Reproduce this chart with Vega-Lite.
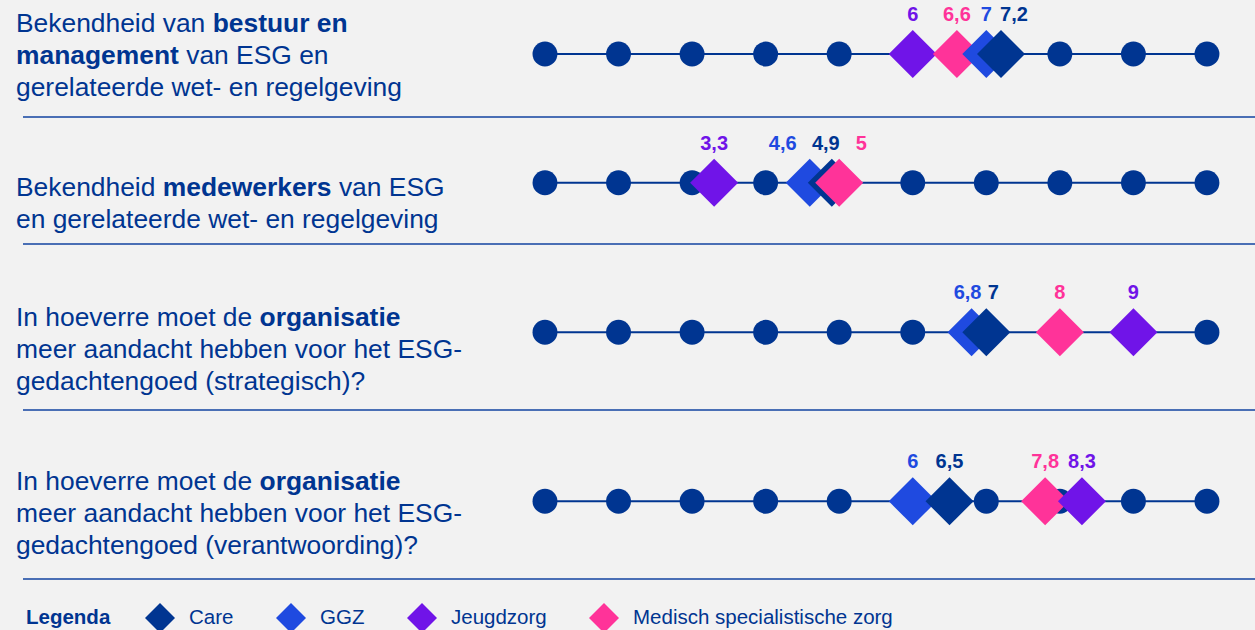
{
"$schema": "https://vega.github.io/schema/vega-lite/v6.json",
"background": "#f2f2f2",
"padding": 0,
"spacing": 0,
"config": {
  "view": {"stroke": null},
  "locale": {"number": {"decimal": ",", "thousands": ".", "grouping": [3], "currency": ["€", ""]}},
  "text": {"font": "Liberation Sans"},
  "legend": {"orient": "none", "legendX": 26, "legendY": 603, "direction": "horizontal", "titleOrient": "left", "titleFont": "Liberation Sans", "titleFontSize": 20.5, "titleFontWeight": "bold", "titleColor": "#003591", "titlePadding": 34, "labelFont": "Liberation Sans", "labelFontSize": 20.5, "labelColor": "#003591", "labelOffset": 14, "columnPadding": 42, "symbolType": "diamond", "symbolSize": 900, "symbolStrokeWidth": 0, "symbolOpacity": 1, "labelLimit": 400}
},
"datasets": {
  "tekst": [
    {"q":1,"line":1,"seg":0,"emph":false,"txt":"Bekendheid van"},
    {"q":1,"line":1,"seg":1,"emph":true,"txt":"bestuur en"},
    {"q":1,"line":2,"seg":0,"emph":true,"txt":"management"},
    {"q":1,"line":2,"seg":1,"emph":false,"txt":"van ESG en"},
    {"q":1,"line":3,"seg":0,"emph":false,"txt":"gerelateerde wet- en regelgeving"},
    {"q":2,"line":1,"seg":0,"emph":false,"txt":"Bekendheid"},
    {"q":2,"line":1,"seg":1,"emph":true,"txt":"medewerkers"},
    {"q":2,"line":1,"seg":2,"emph":false,"txt":"van ESG"},
    {"q":2,"line":2,"seg":0,"emph":false,"txt":"en gerelateerde wet- en regelgeving"},
    {"q":3,"line":1,"seg":0,"emph":false,"txt":"In hoeverre moet de"},
    {"q":3,"line":1,"seg":1,"emph":true,"txt":"organisatie"},
    {"q":3,"line":2,"seg":0,"emph":false,"txt":"meer aandacht hebben voor het ESG-"},
    {"q":3,"line":3,"seg":0,"emph":false,"txt":"gedachtengoed (strategisch)?"},
    {"q":4,"line":1,"seg":0,"emph":false,"txt":"In hoeverre moet de"},
    {"q":4,"line":1,"seg":1,"emph":true,"txt":"organisatie"},
    {"q":4,"line":2,"seg":0,"emph":false,"txt":"meer aandacht hebben voor het ESG-"},
    {"q":4,"line":3,"seg":0,"emph":false,"txt":"gedachtengoed (verantwoording)?"}
  ],
  "schaal": [{"p":1},{"p":2},{"p":3},{"p":4},{"p":5},{"p":6},{"p":7},{"p":8},{"p":9},{"p":10}],
  "scores": [
    {"q":1,"sector":"Jeugdzorg","score":6},
    {"q":1,"sector":"Medisch specialistische zorg","score":6.6},
    {"q":1,"sector":"GGZ","score":7},
    {"q":1,"sector":"Care","score":7.2},
    {"q":2,"sector":"Jeugdzorg","score":3.3},
    {"q":2,"sector":"GGZ","score":4.6},
    {"q":2,"sector":"Care","score":4.9},
    {"q":2,"sector":"Medisch specialistische zorg","score":5},
    {"q":3,"sector":"GGZ","score":6.8},
    {"q":3,"sector":"Care","score":7},
    {"q":3,"sector":"Medisch specialistische zorg","score":8},
    {"q":3,"sector":"Jeugdzorg","score":9},
    {"q":4,"sector":"GGZ","score":6},
    {"q":4,"sector":"Care","score":6.5},
    {"q":4,"sector":"Medisch specialistische zorg","score":7.8},
    {"q":4,"sector":"Jeugdzorg","score":8.3}
  ]
},
"resolve": {"scale": {"y": "independent"}},
"vconcat": [
  {
    "width": 1255, "height": 117,
    "layer": [
      {"data": {"values": [{}]},
       "mark": {"type": "rule", "color": "#4a6fb5", "strokeWidth": 2},
       "encoding": {"x": {"datum": -6.0963, "type": "quantitative", "scale": {"domain":[-6.409,10.653],"nice":false,"zero":false}, "axis": null},
                    "x2": {"datum": 10.653},
                    "y": {"datum": 3.673, "type": "quantitative", "scale": {"domain":[-0.0063,3.673],"nice":false,"zero":false,"reverse":true}, "axis": null}}},
      {"data": {"values": [{}]},
       "mark": {"type": "rule", "color": "#003591", "strokeWidth": 2},
       "encoding": {"x": {"datum": 1, "type": "quantitative", "scale": {"domain":[-6.409,10.653],"nice":false,"zero":false}, "axis": null},
                    "x2": {"datum": 10},
                    "y": {"datum": 1.692, "type": "quantitative", "scale": {"domain":[-0.0063,3.673],"nice":false,"zero":false,"reverse":true}, "axis": null}}},
      {"data": {"name": "schaal"},
       "mark": {"type": "circle", "color": "#003591", "size": 620, "opacity": 1},
       "encoding": {"x": {"field": "p", "type": "quantitative", "scale": {"domain":[-6.409,10.653],"nice":false,"zero":false}, "axis": null},
                    "y": {"datum": 1.692, "type": "quantitative", "scale": {"domain":[-0.0063,3.673],"nice":false,"zero":false,"reverse":true}, "axis": null}}},
      {"data": {"name": "scores"}, "transform": [{"filter": "datum.q==1"}],
       "mark": {"type": "point", "shape": "diamond", "filled": true, "size": 2304, "opacity": 1, "strokeWidth": 0},
       "encoding": {"x": {"field": "score", "type": "quantitative", "scale": {"domain":[-6.409,10.653],"nice":false,"zero":false}, "axis": null},
                    "y": {"datum": 1.692, "type": "quantitative", "scale": {"domain":[-0.0063,3.673],"nice":false,"zero":false,"reverse":true}, "axis": null},
                    "color": {"field": "sector", "type": "nominal", "scale": {"domain":["Care","GGZ","Jeugdzorg","Medisch specialistische zorg"],"range":["#003591","#1f4ae0","#7014e8","#ff3399"]}, "legend": {"title": "Legenda"}},
                    "order": {"field": "score", "type": "quantitative"}}},
      {"data": {"name": "scores"}, "transform": [{"filter": "datum.q==1 && datum.sector!='Care'"}],
       "mark": {"type": "text", "font": "Liberation Sans", "fontWeight": "bold", "fontSize": 20, "align": "center", "baseline": "alphabetic", "dy": -33},
       "encoding": {"x": {"field": "score", "type": "quantitative", "scale": {"domain":[-6.409,10.653],"nice":false,"zero":false}, "axis": null},
                    "y": {"datum": 1.692, "type": "quantitative", "scale": {"domain":[-0.0063,3.673],"nice":false,"zero":false,"reverse":true}, "axis": null},
                    "text": {"field": "score", "type": "quantitative", "format": ".1~f"},
                    "color": {"field": "sector", "type": "nominal", "scale": {"domain":["Care","GGZ","Jeugdzorg","Medisch specialistische zorg"],"range":["#003591","#1f4ae0","#7014e8","#ff3399"]}, "legend": null}}},
      {"data": {"name": "scores"}, "transform": [{"filter": "datum.q==1 && datum.sector=='Care'"}],
       "mark": {"type": "text", "font": "Liberation Sans", "fontWeight": "bold", "fontSize": 20, "align": "center", "baseline": "alphabetic", "dy": -33, "dx": 13},
       "encoding": {"x": {"field": "score", "type": "quantitative", "scale": {"domain":[-6.409,10.653],"nice":false,"zero":false}, "axis": null},
                    "y": {"datum": 1.692, "type": "quantitative", "scale": {"domain":[-0.0063,3.673],"nice":false,"zero":false,"reverse":true}, "axis": null},
                    "text": {"field": "score", "type": "quantitative", "format": ".1~f"},
                    "color": {"field": "sector", "type": "nominal", "scale": {"domain":["Care","GGZ","Jeugdzorg","Medisch specialistische zorg"],"range":["#003591","#1f4ae0","#7014e8","#ff3399"]}, "legend": null}}},
      {"data": {"name": "tekst"}, "transform": [{"filter": "datum.q==1 && datum.seg==0 && !datum.emph"}],
       "mark": {"type": "text", "font": "Liberation Sans", "fontSize": 26.4, "fill": "#003591", "align": "left", "baseline": "alphabetic"},
       "encoding": {"x": {"datum": -6.1915, "type": "quantitative", "scale": {"domain":[-6.409,10.653],"nice":false,"zero":false}, "axis": null},
                    "y": {"field": "line", "type": "quantitative", "scale": {"domain":[-0.0063,3.673],"nice":false,"zero":false,"reverse":true}, "axis": null},
                    "text": {"field": "txt", "type": "nominal"}}},
      {"data": {"name": "tekst"}, "transform": [{"filter": "datum.q==1 && datum.seg==0 && datum.emph"}],
       "mark": {"type": "text", "font": "Liberation Sans", "fontWeight": "bold", "fontSize": 26.4, "fill": "#003591", "align": "left", "baseline": "alphabetic"},
       "encoding": {"x": {"datum": -6.1915, "type": "quantitative", "scale": {"domain":[-6.409,10.653],"nice":false,"zero":false}, "axis": null},
                    "y": {"field": "line", "type": "quantitative", "scale": {"domain":[-0.0063,3.673],"nice":false,"zero":false,"reverse":true}, "axis": null},
                    "text": {"field": "txt", "type": "nominal"}}},
      {"data": {"name": "tekst"}, "transform": [{"filter": "datum.q==1 && datum.seg==1 && datum.emph"}],
       "mark": {"type": "text", "font": "Liberation Sans", "fontWeight": "bold", "fontSize": 26.4, "fill": "#003591", "align": "left", "baseline": "alphabetic", "dx": 196.7},
       "encoding": {"x": {"datum": -6.1915, "type": "quantitative", "scale": {"domain":[-6.409,10.653],"nice":false,"zero":false}, "axis": null},
                    "y": {"field": "line", "type": "quantitative", "scale": {"domain":[-0.0063,3.673],"nice":false,"zero":false,"reverse":true}, "axis": null},
                    "text": {"field": "txt", "type": "nominal"}}},
      {"data": {"name": "tekst"}, "transform": [{"filter": "datum.q==1 && datum.seg==1 && !datum.emph"}],
       "mark": {"type": "text", "font": "Liberation Sans", "fontSize": 26.4, "fill": "#003591", "align": "left", "baseline": "alphabetic", "dx": 170.2},
       "encoding": {"x": {"datum": -6.1915, "type": "quantitative", "scale": {"domain":[-6.409,10.653],"nice":false,"zero":false}, "axis": null},
                    "y": {"field": "line", "type": "quantitative", "scale": {"domain":[-0.0063,3.673],"nice":false,"zero":false,"reverse":true}, "axis": null},
                    "text": {"field": "txt", "type": "nominal"}}}
    ]
  },
  {
    "width": 1255, "height": 126,
    "layer": [
      {"data": {"values": [{}]},
       "mark": {"type": "rule", "color": "#4a6fb5", "strokeWidth": 2},
       "encoding": {"x": {"datum": -6.0963, "type": "quantitative", "scale": {"domain":[-6.409,10.653],"nice":false,"zero":false}, "axis": null},
                    "x2": {"datum": 10.653},
                    "y": {"datum": 2.5094, "type": "quantitative", "scale": {"domain":[-1.4528,2.5094],"nice":false,"zero":false,"reverse":true}, "axis": null}}},
      {"data": {"values": [{}]},
       "mark": {"type": "rule", "color": "#003591", "strokeWidth": 2},
       "encoding": {"x": {"datum": 1, "type": "quantitative", "scale": {"domain":[-6.409,10.653],"nice":false,"zero":false}, "axis": null},
                    "x2": {"datum": 10},
                    "y": {"datum": 0.5818, "type": "quantitative", "scale": {"domain":[-1.4528,2.5094],"nice":false,"zero":false,"reverse":true}, "axis": null}}},
      {"data": {"name": "schaal"},
       "mark": {"type": "circle", "color": "#003591", "size": 620, "opacity": 1},
       "encoding": {"x": {"field": "p", "type": "quantitative", "scale": {"domain":[-6.409,10.653],"nice":false,"zero":false}, "axis": null},
                    "y": {"datum": 0.5818, "type": "quantitative", "scale": {"domain":[-1.4528,2.5094],"nice":false,"zero":false,"reverse":true}, "axis": null}}},
      {"data": {"name": "scores"}, "transform": [{"filter": "datum.q==2"}],
       "mark": {"type": "point", "shape": "diamond", "filled": true, "size": 2304, "opacity": 1, "strokeWidth": 0},
       "encoding": {"x": {"field": "score", "type": "quantitative", "scale": {"domain":[-6.409,10.653],"nice":false,"zero":false}, "axis": null},
                    "y": {"datum": 0.5818, "type": "quantitative", "scale": {"domain":[-1.4528,2.5094],"nice":false,"zero":false,"reverse":true}, "axis": null},
                    "color": {"field": "sector", "type": "nominal", "scale": {"domain":["Care","GGZ","Jeugdzorg","Medisch specialistische zorg"],"range":["#003591","#1f4ae0","#7014e8","#ff3399"]}, "legend": {"title": "Legenda"}},
                    "order": {"field": "score", "type": "quantitative"}}},
      {"data": {"name": "scores"}, "transform": [{"filter": "datum.q==2 && datum.sector=='Jeugdzorg'"}],
       "mark": {"type": "text", "font": "Liberation Sans", "fontWeight": "bold", "fontSize": 20, "align": "center", "baseline": "alphabetic", "dy": -33},
       "encoding": {"x": {"field": "score", "type": "quantitative", "scale": {"domain":[-6.409,10.653],"nice":false,"zero":false}, "axis": null},
                    "y": {"datum": 0.5818, "type": "quantitative", "scale": {"domain":[-1.4528,2.5094],"nice":false,"zero":false,"reverse":true}, "axis": null},
                    "text": {"field": "score", "type": "quantitative", "format": ".1~f"},
                    "color": {"field": "sector", "type": "nominal", "scale": {"domain":["Care","GGZ","Jeugdzorg","Medisch specialistische zorg"],"range":["#003591","#1f4ae0","#7014e8","#ff3399"]}, "legend": null}}},
      {"data": {"name": "scores"}, "transform": [{"filter": "datum.q==2 && datum.sector=='GGZ'"}],
       "mark": {"type": "text", "font": "Liberation Sans", "fontWeight": "bold", "fontSize": 20, "align": "center", "baseline": "alphabetic", "dy": -33, "dx": -27},
       "encoding": {"x": {"field": "score", "type": "quantitative", "scale": {"domain":[-6.409,10.653],"nice":false,"zero":false}, "axis": null},
                    "y": {"datum": 0.5818, "type": "quantitative", "scale": {"domain":[-1.4528,2.5094],"nice":false,"zero":false,"reverse":true}, "axis": null},
                    "text": {"field": "score", "type": "quantitative", "format": ".1~f"},
                    "color": {"field": "sector", "type": "nominal", "scale": {"domain":["Care","GGZ","Jeugdzorg","Medisch specialistische zorg"],"range":["#003591","#1f4ae0","#7014e8","#ff3399"]}, "legend": null}}},
      {"data": {"name": "scores"}, "transform": [{"filter": "datum.q==2 && datum.sector=='Care'"}],
       "mark": {"type": "text", "font": "Liberation Sans", "fontWeight": "bold", "fontSize": 20, "align": "center", "baseline": "alphabetic", "dy": -33, "dx": -6},
       "encoding": {"x": {"field": "score", "type": "quantitative", "scale": {"domain":[-6.409,10.653],"nice":false,"zero":false}, "axis": null},
                    "y": {"datum": 0.5818, "type": "quantitative", "scale": {"domain":[-1.4528,2.5094],"nice":false,"zero":false,"reverse":true}, "axis": null},
                    "text": {"field": "score", "type": "quantitative", "format": ".1~f"},
                    "color": {"field": "sector", "type": "nominal", "scale": {"domain":["Care","GGZ","Jeugdzorg","Medisch specialistische zorg"],"range":["#003591","#1f4ae0","#7014e8","#ff3399"]}, "legend": null}}},
      {"data": {"name": "scores"}, "transform": [{"filter": "datum.q==2 && datum.sector=='Medisch specialistische zorg'"}],
       "mark": {"type": "text", "font": "Liberation Sans", "fontWeight": "bold", "fontSize": 20, "align": "center", "baseline": "alphabetic", "dy": -33, "dx": 22},
       "encoding": {"x": {"field": "score", "type": "quantitative", "scale": {"domain":[-6.409,10.653],"nice":false,"zero":false}, "axis": null},
                    "y": {"datum": 0.5818, "type": "quantitative", "scale": {"domain":[-1.4528,2.5094],"nice":false,"zero":false,"reverse":true}, "axis": null},
                    "text": {"field": "score", "type": "quantitative", "format": ".1~f"},
                    "color": {"field": "sector", "type": "nominal", "scale": {"domain":["Care","GGZ","Jeugdzorg","Medisch specialistische zorg"],"range":["#003591","#1f4ae0","#7014e8","#ff3399"]}, "legend": null}}},
      {"data": {"name": "tekst"}, "transform": [{"filter": "datum.q==2 && datum.seg==0"}],
       "mark": {"type": "text", "font": "Liberation Sans", "fontSize": 26.4, "fill": "#003591", "align": "left", "baseline": "alphabetic"},
       "encoding": {"x": {"datum": -6.1915, "type": "quantitative", "scale": {"domain":[-6.409,10.653],"nice":false,"zero":false}, "axis": null},
                    "y": {"field": "line", "type": "quantitative", "scale": {"domain":[-1.4528,2.5094],"nice":false,"zero":false,"reverse":true}, "axis": null},
                    "text": {"field": "txt", "type": "nominal"}}},
      {"data": {"name": "tekst"}, "transform": [{"filter": "datum.q==2 && datum.seg==1"}],
       "mark": {"type": "text", "font": "Liberation Sans", "fontWeight": "bold", "fontSize": 26.4, "fill": "#003591", "align": "left", "baseline": "alphabetic", "dx": 146.8},
       "encoding": {"x": {"datum": -6.1915, "type": "quantitative", "scale": {"domain":[-6.409,10.653],"nice":false,"zero":false}, "axis": null},
                    "y": {"field": "line", "type": "quantitative", "scale": {"domain":[-1.4528,2.5094],"nice":false,"zero":false,"reverse":true}, "axis": null},
                    "text": {"field": "txt", "type": "nominal"}}},
      {"data": {"name": "tekst"}, "transform": [{"filter": "datum.q==2 && datum.seg==2"}],
       "mark": {"type": "text", "font": "Liberation Sans", "fontSize": 26.4, "fill": "#003591", "align": "left", "baseline": "alphabetic", "dx": 322.9},
       "encoding": {"x": {"datum": -6.1915, "type": "quantitative", "scale": {"domain":[-6.409,10.653],"nice":false,"zero":false}, "axis": null},
                    "y": {"field": "line", "type": "quantitative", "scale": {"domain":[-1.4528,2.5094],"nice":false,"zero":false,"reverse":true}, "axis": null},
                    "text": {"field": "txt", "type": "nominal"}}}
    ]
  },
  {
    "width": 1255, "height": 165,
    "layer": [
      {"data": {"values": [{}]},
       "mark": {"type": "rule", "color": "#4a6fb5", "strokeWidth": 2},
       "encoding": {"x": {"datum": -6.0963, "type": "quantitative", "scale": {"domain":[-6.409,10.653],"nice":false,"zero":false}, "axis": null},
                    "x2": {"datum": 10.653},
                    "y": {"datum": 3.6258, "type": "quantitative", "scale": {"domain":[-1.5629,3.6258],"nice":false,"zero":false,"reverse":true}, "axis": null}}},
      {"data": {"values": [{}]},
       "mark": {"type": "rule", "color": "#003591", "strokeWidth": 2},
       "encoding": {"x": {"datum": 1, "type": "quantitative", "scale": {"domain":[-6.409,10.653],"nice":false,"zero":false}, "axis": null},
                    "x2": {"datum": 10},
                    "y": {"datum": 1.1824, "type": "quantitative", "scale": {"domain":[-1.5629,3.6258],"nice":false,"zero":false,"reverse":true}, "axis": null}}},
      {"data": {"name": "schaal"},
       "mark": {"type": "circle", "color": "#003591", "size": 620, "opacity": 1},
       "encoding": {"x": {"field": "p", "type": "quantitative", "scale": {"domain":[-6.409,10.653],"nice":false,"zero":false}, "axis": null},
                    "y": {"datum": 1.1824, "type": "quantitative", "scale": {"domain":[-1.5629,3.6258],"nice":false,"zero":false,"reverse":true}, "axis": null}}},
      {"data": {"name": "scores"}, "transform": [{"filter": "datum.q==3"}],
       "mark": {"type": "point", "shape": "diamond", "filled": true, "size": 2304, "opacity": 1, "strokeWidth": 0},
       "encoding": {"x": {"field": "score", "type": "quantitative", "scale": {"domain":[-6.409,10.653],"nice":false,"zero":false}, "axis": null},
                    "y": {"datum": 1.1824, "type": "quantitative", "scale": {"domain":[-1.5629,3.6258],"nice":false,"zero":false,"reverse":true}, "axis": null},
                    "color": {"field": "sector", "type": "nominal", "scale": {"domain":["Care","GGZ","Jeugdzorg","Medisch specialistische zorg"],"range":["#003591","#1f4ae0","#7014e8","#ff3399"]}, "legend": {"title": "Legenda"}},
                    "order": {"field": "score", "type": "quantitative"}}},
      {"data": {"name": "scores"}, "transform": [{"filter": "datum.q==3 && datum.sector!='Care' && datum.sector!='GGZ'"}],
       "mark": {"type": "text", "font": "Liberation Sans", "fontWeight": "bold", "fontSize": 20, "align": "center", "baseline": "alphabetic", "dy": -33},
       "encoding": {"x": {"field": "score", "type": "quantitative", "scale": {"domain":[-6.409,10.653],"nice":false,"zero":false}, "axis": null},
                    "y": {"datum": 1.1824, "type": "quantitative", "scale": {"domain":[-1.5629,3.6258],"nice":false,"zero":false,"reverse":true}, "axis": null},
                    "text": {"field": "score", "type": "quantitative", "format": ".1~f"},
                    "color": {"field": "sector", "type": "nominal", "scale": {"domain":["Care","GGZ","Jeugdzorg","Medisch specialistische zorg"],"range":["#003591","#1f4ae0","#7014e8","#ff3399"]}, "legend": null}}},
      {"data": {"name": "scores"}, "transform": [{"filter": "datum.q==3 && datum.sector=='GGZ'"}],
       "mark": {"type": "text", "font": "Liberation Sans", "fontWeight": "bold", "fontSize": 20, "align": "center", "baseline": "alphabetic", "dy": -33, "dx": -4},
       "encoding": {"x": {"field": "score", "type": "quantitative", "scale": {"domain":[-6.409,10.653],"nice":false,"zero":false}, "axis": null},
                    "y": {"datum": 1.1824, "type": "quantitative", "scale": {"domain":[-1.5629,3.6258],"nice":false,"zero":false,"reverse":true}, "axis": null},
                    "text": {"field": "score", "type": "quantitative", "format": ".1~f"},
                    "color": {"field": "sector", "type": "nominal", "scale": {"domain":["Care","GGZ","Jeugdzorg","Medisch specialistische zorg"],"range":["#003591","#1f4ae0","#7014e8","#ff3399"]}, "legend": null}}},
      {"data": {"name": "scores"}, "transform": [{"filter": "datum.q==3 && datum.sector=='Care'"}],
       "mark": {"type": "text", "font": "Liberation Sans", "fontWeight": "bold", "fontSize": 20, "align": "center", "baseline": "alphabetic", "dy": -33, "dx": 7},
       "encoding": {"x": {"field": "score", "type": "quantitative", "scale": {"domain":[-6.409,10.653],"nice":false,"zero":false}, "axis": null},
                    "y": {"datum": 1.1824, "type": "quantitative", "scale": {"domain":[-1.5629,3.6258],"nice":false,"zero":false,"reverse":true}, "axis": null},
                    "text": {"field": "score", "type": "quantitative", "format": ".1~f"},
                    "color": {"field": "sector", "type": "nominal", "scale": {"domain":["Care","GGZ","Jeugdzorg","Medisch specialistische zorg"],"range":["#003591","#1f4ae0","#7014e8","#ff3399"]}, "legend": null}}},
      {"data": {"name": "tekst"}, "transform": [{"filter": "datum.q==3 && datum.seg==0"}],
       "mark": {"type": "text", "font": "Liberation Sans", "fontSize": 26.4, "fill": "#003591", "align": "left", "baseline": "alphabetic"},
       "encoding": {"x": {"datum": -6.1915, "type": "quantitative", "scale": {"domain":[-6.409,10.653],"nice":false,"zero":false}, "axis": null},
                    "y": {"field": "line", "type": "quantitative", "scale": {"domain":[-1.5629,3.6258],"nice":false,"zero":false,"reverse":true}, "axis": null},
                    "text": {"field": "txt", "type": "nominal"}}},
      {"data": {"name": "tekst"}, "transform": [{"filter": "datum.q==3 && datum.seg==1"}],
       "mark": {"type": "text", "font": "Liberation Sans", "fontWeight": "bold", "fontSize": 26.4, "fill": "#003591", "align": "left", "baseline": "alphabetic", "dx": 243.6},
       "encoding": {"x": {"datum": -6.1915, "type": "quantitative", "scale": {"domain":[-6.409,10.653],"nice":false,"zero":false}, "axis": null},
                    "y": {"field": "line", "type": "quantitative", "scale": {"domain":[-1.5629,3.6258],"nice":false,"zero":false,"reverse":true}, "axis": null},
                    "text": {"field": "txt", "type": "nominal"}}}
    ]
  },
  {
    "width": 1255, "height": 168,
    "layer": [
      {"data": {"values": [{}]},
       "mark": {"type": "rule", "color": "#4a6fb5", "strokeWidth": 2},
       "encoding": {"x": {"datum": -6.0963, "type": "quantitative", "scale": {"domain":[-6.409,10.653],"nice":false,"zero":false}, "axis": null},
                    "x2": {"datum": 10.653},
                    "y": {"datum": 3.7987, "type": "quantitative", "scale": {"domain":[-1.4843,3.7987],"nice":false,"zero":false,"reverse":true}, "axis": null}}},
      {"data": {"values": [{}]},
       "mark": {"type": "rule", "color": "#003591", "strokeWidth": 2},
       "encoding": {"x": {"datum": 1, "type": "quantitative", "scale": {"domain":[-6.409,10.653],"nice":false,"zero":false}, "axis": null},
                    "x2": {"datum": 10},
                    "y": {"datum": 1.3553, "type": "quantitative", "scale": {"domain":[-1.4843,3.7987],"nice":false,"zero":false,"reverse":true}, "axis": null}}},
      {"data": {"name": "schaal"},
       "mark": {"type": "circle", "color": "#003591", "size": 620, "opacity": 1},
       "encoding": {"x": {"field": "p", "type": "quantitative", "scale": {"domain":[-6.409,10.653],"nice":false,"zero":false}, "axis": null},
                    "y": {"datum": 1.3553, "type": "quantitative", "scale": {"domain":[-1.4843,3.7987],"nice":false,"zero":false,"reverse":true}, "axis": null}}},
      {"data": {"name": "scores"}, "transform": [{"filter": "datum.q==4"}],
       "mark": {"type": "point", "shape": "diamond", "filled": true, "size": 2304, "opacity": 1, "strokeWidth": 0},
       "encoding": {"x": {"field": "score", "type": "quantitative", "scale": {"domain":[-6.409,10.653],"nice":false,"zero":false}, "axis": null},
                    "y": {"datum": 1.3553, "type": "quantitative", "scale": {"domain":[-1.4843,3.7987],"nice":false,"zero":false,"reverse":true}, "axis": null},
                    "color": {"field": "sector", "type": "nominal", "scale": {"domain":["Care","GGZ","Jeugdzorg","Medisch specialistische zorg"],"range":["#003591","#1f4ae0","#7014e8","#ff3399"]}, "legend": {"title": "Legenda"}},
                    "order": {"field": "score", "type": "quantitative"}}},
      {"data": {"name": "scores"}, "transform": [{"filter": "datum.q==4"}],
       "mark": {"type": "text", "font": "Liberation Sans", "fontWeight": "bold", "fontSize": 20, "align": "center", "baseline": "alphabetic", "dy": -33},
       "encoding": {"x": {"field": "score", "type": "quantitative", "scale": {"domain":[-6.409,10.653],"nice":false,"zero":false}, "axis": null},
                    "y": {"datum": 1.3553, "type": "quantitative", "scale": {"domain":[-1.4843,3.7987],"nice":false,"zero":false,"reverse":true}, "axis": null},
                    "text": {"field": "score", "type": "quantitative", "format": ".1~f"},
                    "color": {"field": "sector", "type": "nominal", "scale": {"domain":["Care","GGZ","Jeugdzorg","Medisch specialistische zorg"],"range":["#003591","#1f4ae0","#7014e8","#ff3399"]}, "legend": null}}},
      {"data": {"name": "tekst"}, "transform": [{"filter": "datum.q==4 && datum.seg==0"}],
       "mark": {"type": "text", "font": "Liberation Sans", "fontSize": 26.4, "fill": "#003591", "align": "left", "baseline": "alphabetic"},
       "encoding": {"x": {"datum": -6.1915, "type": "quantitative", "scale": {"domain":[-6.409,10.653],"nice":false,"zero":false}, "axis": null},
                    "y": {"field": "line", "type": "quantitative", "scale": {"domain":[-1.4843,3.7987],"nice":false,"zero":false,"reverse":true}, "axis": null},
                    "text": {"field": "txt", "type": "nominal"}}},
      {"data": {"name": "tekst"}, "transform": [{"filter": "datum.q==4 && datum.seg==1"}],
       "mark": {"type": "text", "font": "Liberation Sans", "fontWeight": "bold", "fontSize": 26.4, "fill": "#003591", "align": "left", "baseline": "alphabetic", "dx": 243.6},
       "encoding": {"x": {"datum": -6.1915, "type": "quantitative", "scale": {"domain":[-6.409,10.653],"nice":false,"zero":false}, "axis": null},
                    "y": {"field": "line", "type": "quantitative", "scale": {"domain":[-1.4843,3.7987],"nice":false,"zero":false,"reverse":true}, "axis": null},
                    "text": {"field": "txt", "type": "nominal"}}}
    ]
  }
]
}
